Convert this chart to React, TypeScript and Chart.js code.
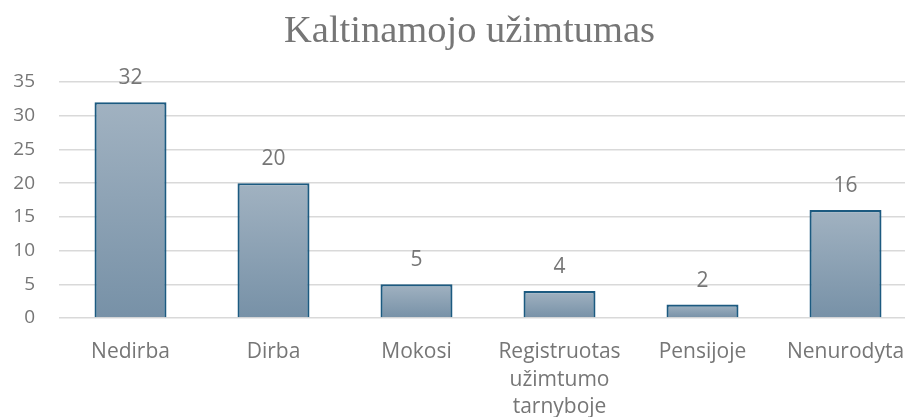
import React, { useEffect, useRef } from 'react';
import { Chart, registerables } from 'chart.js';

Chart.register(...registerables);

const chartTitle = 'Kaltinamojo užimtumas';
const categories: string[][] = [
  ['Nedirba'],
  ['Dirba'],
  ['Mokosi'],
  ['Registruotas', 'užimtumo', 'tarnyboje'],
  ['Pensijoje'],
  ['Nenurodyta'],
];
const values: number[] = [32, 20, 5, 4, 2, 16];
const yMin = 0;
const yMax = 35;
const yStep = 5;

const TEXT = '#767676';
const SANS = '"Open Sans", "Noto Sans", sans-serif';

const dataLabels = {
  id: 'dataLabels',
  afterLayout(chart: any) {
    // centre the title over the full (clipped) chart width, as in the original
    if (chart.titleBlock) chart.titleBlock.left = 22;
  },
  afterDatasetsDraw(chart: any) {
    const { ctx } = chart;
    const meta = chart.getDatasetMeta(0);
    ctx.save();
    ctx.font = `21px ${SANS}`;
    ctx.fillStyle = TEXT;
    ctx.textAlign = 'center';
    ctx.textBaseline = 'alphabetic';
    meta.data.forEach((el: any, i: number) => {
      const { x, y } = el.getProps(['x', 'y'], true);
      ctx.fillText(String(values[i]), x, y - 18);
    });
    ctx.restore();
  },
};

export default function App() {
  const ref = useRef<HTMLCanvasElement | null>(null);

  useEffect(() => {
    if (!ref.current) return;
    const chart = new Chart(ref.current, {
      type: 'bar',
      data: {
        labels: categories,
        datasets: [
          {
            data: values,
            backgroundColor: (c: any) => {
              const ch = c.chart;
              const ys = ch.scales?.y;
              if (!ys || c.type !== 'data') return '#8ca1b4';
              const v = values[c.dataIndex];
              const top = ys.getPixelForValue(v);
              const bottom = ys.getPixelForValue(0);
              if (!isFinite(top) || !isFinite(bottom) || top === bottom) return '#8ca1b4';
              const g = ch.ctx.createLinearGradient(0, top, 0, bottom);
              g.addColorStop(0, '#a1b2c1');
              g.addColorStop(1, '#7791a7');
              return g;
            },
            borderColor: '#1c5a80',
            borderWidth: 2.2,
            borderSkipped: 'start',
            categoryPercentage: 1,
            barPercentage: 0.5035,
          },
        ],
      },
      options: {
        responsive: false,
        animation: false,
        layout: { padding: { left: 0, right: 25, top: 0, bottom: 0 } },
        plugins: {
          legend: { display: false },
          tooltip: { enabled: false },
          title: {
            display: true,
            text: chartTitle,
            color: TEXT,
            font: { family: '"Liberation Serif", "Times New Roman", serif', size: 38.5, weight: 'normal', lineHeight: 1.2 },
            padding: { top: 8.8, bottom: 27 },
          },
        },
        scales: {
          x: {
            grid: { display: false, drawTicks: false },
            border: { display: false },
            ticks: {
              color: TEXT,
              font: { family: SANS, size: 21, lineHeight: 1.31 },
              padding: 20.5,
              maxRotation: 0,
              autoSkip: false,
            },
            afterFit: (s: any) => {
              s.height = 99;
            },
          },
          y: {
            min: yMin,
            max: yMax,
            grid: { color: '#d9d9d9', lineWidth: 1.5, drawTicks: false },
            border: { display: false },
            ticks: {
              stepSize: yStep,
              color: TEXT,
              font: { family: SANS, size: 19 },
              padding: 24,
            },
            afterFit: (s: any) => {
              s.width = 59;
            },
          },
        },
      },
      plugins: [dataLabels],
    });
    return () => chart.destroy();
  }, []);

  return (
    <div
      style={{
        position: 'fixed',
        left: 0,
        top: 0,
        width: 905,
        height: 417,
        overflow: 'hidden',
        background: '#fff',
      }}
    >
      <canvas ref={ref} width={942} height={417} style={{ display: 'block', width: 942, height: 417 }} />
    </div>
  );
}
